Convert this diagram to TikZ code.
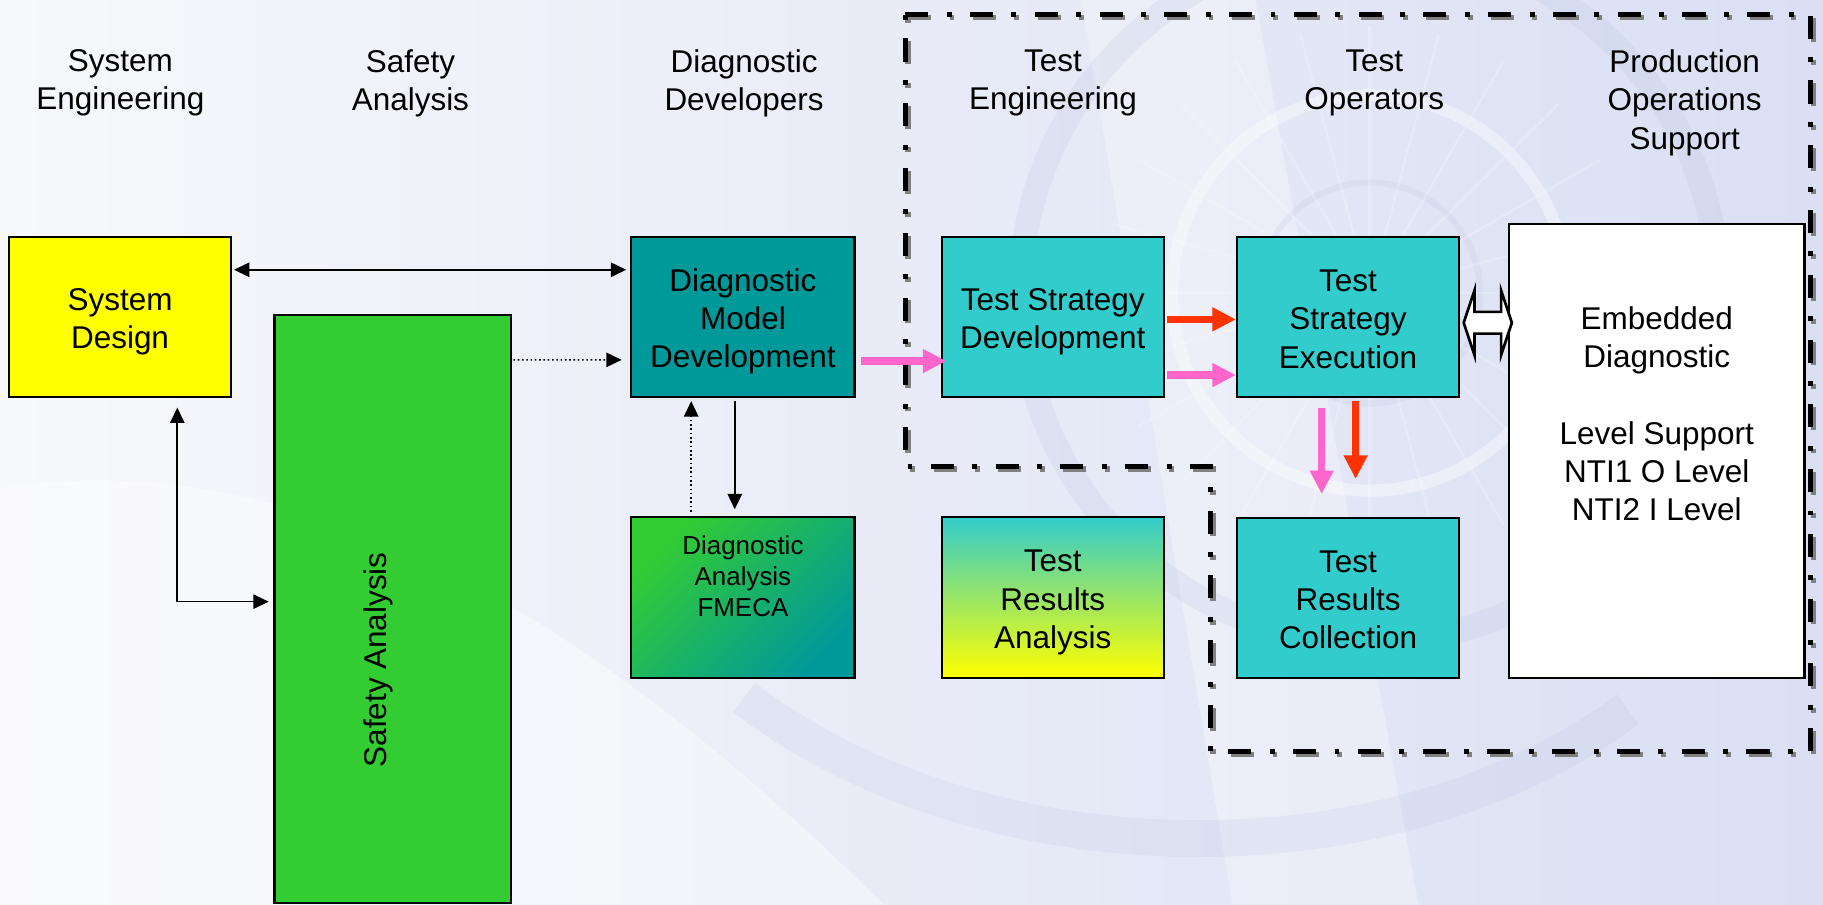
\documentclass[tikz,border=0pt]{standalone}
\usepackage{fontspec}
\setmainfont{Liberation Sans}
\usetikzlibrary{arrows.meta,calc}

\definecolor{sysyellow}{HTML}{FFFF00}
\definecolor{safegreen}{HTML}{33CC33}
\definecolor{diagteal}{HTML}{009999}
\definecolor{testcyan}{HTML}{33CCCC}
\definecolor{flowpink}{HTML}{FF66CC}
\definecolor{flowred}{HTML}{FF3300}
\definecolor{bglav}{HTML}{DADFF3}
\definecolor{bgpale}{HTML}{F7F8FB}
\definecolor{bgline}{HTML}{B9C0DE}
\definecolor{bordershade}{HTML}{808080}

\newcommand\lblfont{\fontsize{15.4}{18.7}\selectfont}
\newcommand\smlfont{\fontsize{12.7}{15.3}\selectfont}
% line strut so box captions sit like slide text boxes
\newcommand\ls{\rule[-3pt]{0pt}{18.4pt}}

\begin{document}
\begin{tikzpicture}[x=0.2mm,y=-0.2mm,
  box/.style={draw=black, line width=1.1pt, inner sep=0pt, align=center, font=\lblfont},
  hdr/.style={anchor=north, inner sep=0pt, align=center, font=\lblfont},
  thinarrow/.style={draw=black, line width=0.8pt, -{Triangle[length=7.5pt,width=7pt]}},
  thinboth/.style={draw=black, line width=0.8pt, {Triangle[length=7.5pt,width=7pt]}-{Triangle[length=7.5pt,width=7pt]}},
  dotarrow/.style={draw=black, line width=0.8pt, dash pattern=on 0.8pt off 1.3pt, -{Triangle[length=7.5pt,width=7pt]}},
  fatpink/.style={draw=flowpink, line width=3.5pt, -{Triangle[length=11.5pt,width=11pt]}},
  fatred/.style={draw=flowred, line width=3.5pt, -{Triangle[length=11.5pt,width=11pt]}},
  region/.style={line width=2.6pt, dash pattern=on 11.3pt off 9pt on 2.4pt off 9pt}
]
\useasboundingbox (0,0) rectangle (1568,778);
\clip (0,0) rectangle (1568,778);

% ---- background wash ----
\shade[left color=bgpale, right color=bglav] (0,0) rectangle (1568,778);
\fill[white, opacity=0.4] (0,778) -- (0,420) .. controls (250,380) and (500,520) .. (760,778) -- cycle;
\fill[white, opacity=0.3] (930,0) -- (1080,0) -- (1220,778) -- (1060,778) -- cycle;
\draw[bgline, opacity=0.2, line width=12pt] (1178,252) circle (300);
\draw[white, opacity=0.4, line width=6pt] (1178,252) circle (170);
\draw[bgline, opacity=0.18, line width=3pt] (1178,252) circle (95);
\foreach \a in {0,15,...,345}
  \draw[white, opacity=0.2, line width=1.2pt] (1178,252) -- ++(\a:230);
\draw[bgline, opacity=0.18, line width=18pt] (640,600) .. controls (850,760) and (1200,760) .. (1400,610);

% ---- group headings ----
\node[hdr] (hsyseng) at (103.5,42.5) {System\\Engineering};
\node[hdr] (hsafety) at (353,42.5) {Safety\\Analysis};
\node[hdr] (hdiagdev) at (640,42.5) {Diagnostic\\Developers};
\node[hdr] (htesteng) at (905.7,42.5) {Test\\Engineering};
\node[hdr] (htestops) at (1182,42.5) {Test\\Operators};
\node[hdr] (hprodops) at (1449,42.5) {Production\\Operations\\Support};

% ---- test organisation boundary (shadow, then line) ----
\begin{scope}[shift={(2.4,2.4)}]
  \draw[region, bordershade] (778.6,12.5) -- (1557.5,12.5) -- (1557.5,646.5) -- (1041,646.5)
    -- (1041,401) -- (778.6,401) -- cycle;
\end{scope}
\draw[region, black] (778.6,12.5) -- (1557.5,12.5) -- (1557.5,646.5) -- (1041,646.5)
  -- (1041,401) -- (778.6,401) -- cycle;

% ---- process boxes ----
\node[box, fill=sysyellow, minimum width=38.22mm, minimum height=27.52mm] (sysdesign) at (103.25,272.8) {\ls System\\\ls Design};
\node[box, fill=safegreen, minimum width=40.7mm, minimum height=101.2mm] (safety) at (337.85,524) {};
\node[font=\lblfont, rotate=90, inner sep=0pt] (safetylabel) at (325.6,567.6) {Safety Analysis};
\node[box, fill=diagteal, minimum width=38.4mm, minimum height=27.52mm] (diagmodel) at (639,272.8) {\ls Diagnostic\\\ls Model\\\ls Development};
\node[box, top color=safegreen, bottom color=diagteal, shading angle=45, minimum width=38.4mm, minimum height=27.6mm] (fmeca) at (639,514) {};
\node[font=\smlfont, align=center, inner sep=0pt, anchor=north] (fmecalabel) at (639,460) {Diagnostic\\Analysis\\FMECA};
\node[box, fill=testcyan, minimum width=38.2mm, minimum height=27.52mm] (tsd) at (905.5,272.8) {\ls Test Strategy\\\ls Development};
\node[box, top color=testcyan, bottom color=sysyellow, minimum width=38.2mm, minimum height=27.6mm] (tra) at (905.5,514) {\ls Test\\\ls Results\\\ls Analysis};
\node[box, fill=testcyan, minimum width=38.2mm, minimum height=27.52mm] (exec) at (1159.5,272.8) {\ls Test\\\ls Strategy\\\ls Execution};
\node[box, fill=testcyan, minimum width=38.2mm, minimum height=27.5mm] (collect) at (1159.5,514.3) {\ls Test\\\ls Results\\\ls Collection};
\node[box, fill=white, minimum width=50.8mm, minimum height=78.06mm] (embedded) at (1425,387.85) {};
\node[font=\lblfont, align=center, inner sep=0pt] (embeddedlabel) at (1425,356) {Embedded\\Diagnostic\\[18.7pt]Level Support\\NTI1 O Level\\NTI2 I Level};

% ---- thin connectors ----
\draw[thinboth] ($(sysdesign.north east)+(1.5,29)$) -- ($(diagmodel.north west)+(-3.4,29)$);
\draw[dotarrow] ($(safety.north east)+(1,39.5)$) -- ($(diagmodel.north west)+(-7.3,106.5)$);
\coordinate (elbow) at (152.5,517.5);
\draw[thinarrow] (elbow) -- ($(elbow |- sysdesign.south)+(0,8)$);
\draw[thinarrow] (elbow) -- ($(elbow -| safety.west)+(-4,0)$);
\draw[thinarrow] ($(diagmodel.south)+(-7,2.5)$) -- ($(fmeca.north)+(-7,-6)$);
\draw[dotarrow] ($(fmeca.north)+(-44.5,-4)$) -- ($(diagmodel.south)+(-44.5,2.5)$);

% ---- thick flow arrows ----
\draw[fatpink] ($(diagmodel.east)+(5,37.75)$) -- ($(tsd.west)+(5,37.75)$);
\draw[fatred] ($(tsd.east)+(2,1.9)$) -- ($(exec.west)+(0,1.9)$);
\draw[fatpink] ($(tsd.east)+(2,49.8)$) -- ($(exec.west)+(0,49.8)$);
\draw[fatpink] ($(exec.south)+(-22.7,8.3)$) -- ($(collect.north)+(-22.7,-19.6)$);
\draw[fatred] ($(exec.south)+(6.5,2.2)$) -- ($(collect.north)+(6.5,-32.6)$);

% ---- two-way block arrow to the embedded diagnostics ----
\coordinate (blk) at ($(exec.east)+(3,4.8)$);
\draw[black, line width=1.3pt, fill=white, line join=miter] (blk) -- ++(9.2,-27.7) -- ++(0,18.35) -- ++(23,0)
  -- ++(0,-18.35) -- ++(9.2,27.7) -- ++(-9.2,27.7) -- ++(0,-18.35) -- ++(-23,0) -- ++(0,18.35) -- cycle;
\end{tikzpicture}
\end{document}
